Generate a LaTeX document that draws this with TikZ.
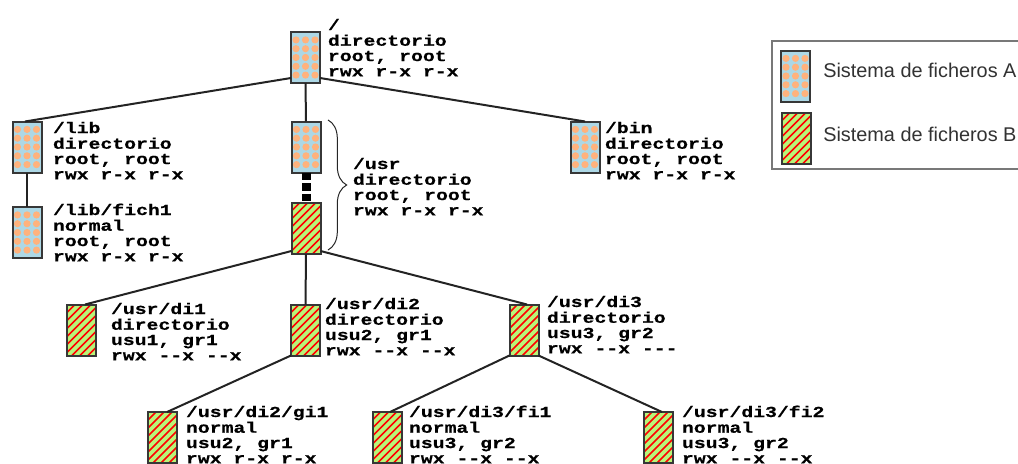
\documentclass[tikz,border=0pt]{standalone}
\usepackage{fontspec}
\usetikzlibrary{calc,decorations.pathreplacing}
\newfontfamily\monof{Liberation Mono}[UprightFont={* Bold}, FakeStretch=1.29, FakeBold=0.6]
\newfontfamily\sansf{Liberation Sans}
\definecolor{fsblue}{RGB}{173,216,230}
\definecolor{fsdot}{RGB}{255,178,125}
\definecolor{fsgreen}{RGB}{184,245,120}
\definecolor{fsred}{RGB}{255,0,0}
\definecolor{bord}{RGB}{55,55,55}
\definecolor{edgec}{RGB}{35,35,35}
\definecolor{legtext}{RGB}{50,50,50}
\definecolor{legframe}{RGB}{120,120,120}
\newcommand{\infolines}[4]{\begin{tabular}[t]{@{}l@{}}#1\\#2\\#3\\#4\end{tabular}}
\begin{document}
\begin{tikzpicture}[x=0.75pt,y=-0.75pt,
  fsbox/.style={draw=bord, line width=1.5pt, minimum width=21.75pt, minimum height=38.25pt, inner sep=0pt, outer sep=0pt},
  fsA/.style={fsbox, fill=fsblue, path picture={
      \foreach \i in {-1,0,1}{\foreach \j in {-2,...,2}{
        \fill[fsdot] ($(path picture bounding box.center)+(\i*9.5,\j*8.8)$) circle[radius=2.7pt];}}
  }},
  fsB/.style={fsbox, fill=fsgreen, path picture={
      \foreach \k in {-8,...,8}{
        \draw[fsred, line width=1.2pt] ($(path picture bounding box.center)+(\k*8-40,40)$) -- ++(80,-80);}
  }},
  info/.style={anchor=base west, inner sep=0pt, outer sep=0pt, font=\monof\fontsize{11.5}{11.5}\selectfont, text=black},
  conn/.style={draw=edgec, line width=1.5pt},
  legtxt/.style={anchor=base west, inner sep=0pt, font=\sansf\fontsize{14.9}{17}\selectfont, text=legtext}
]
\useasboundingbox (0,0) rectangle (1018,464);

% boxes
\node[fsA] (root) at (305.5,57.5) {};
\node[fsA] (lib) at (27,147) {};
\node[fsA] (fich1) at (27,232.5) {};
\node[fsA] (usrA) at (306,147) {};
\node[fsB] (usrB) at (306,228.5) {};
\node[fsA] (bin) at (585,147) {};
\node[fsB] (di1) at (81.5,330) {};
\node[fsB] (di2) at (305.5,330) {};
\node[fsB] (di3) at (524,330) {};
\node[fsB] (gi1) at (162.5,437.5) {};
\node[fsB] (fi1) at (387,437.5) {};
\node[fsB] (fi2) at (658.5,437.5) {};

% connectors
\draw[conn] ($(root.south west)+(0,-5)$) -- ($(lib.north)+(-2,0)$);
\draw[conn] ($(root.south east)+(0,-5)$) -- (bin.north);
\draw[conn] (root.south) -- (usrA.north);
\draw[draw=black, line width=6.75pt, dash pattern=on 5.5pt off 2.5pt] (usrA.south) -- (usrB.north);
\draw[conn] (lib.south) -- (fich1.north);
\draw[conn] ($(usrB.south west)+(0,-3)$) -- ($(di1.north)+(3.5,0)$);
\draw[conn] (usrB.south) -- (di2.north);
\draw[conn] ($(usrB.south east)+(0,-3)$) -- ($(di3.north)+(3,0)$);
\draw[conn] (di2.south west) -- ($(gi1.north)+(4.5,0)$);
\draw[conn] (di3.south west) -- ($(fi1.north)+(3,0)$);
\draw[conn] (di3.south east) -- ($(fi2.north)+(3.5,0)$);

% brace
\coordinate (bt) at (328,120);
\coordinate (bb) at (328,250);
\draw[black!85, line width=0.75pt, decorate, decoration={brace, amplitude=14pt}] (bt) -- (bb);

% texts
\node[info] (rootT) at (328,30) {\infolines{/}{directorio}{root, root}{rwx r-x r-x}};
\node[info] (libT) at (53,133) {\infolines{/lib}{directorio}{root, root}{rwx r-x r-x}};
\node[info] (fich1T) at (53,215) {\infolines{/lib/fich1}{normal}{root, root}{rwx r-x r-x}};
\node[info] (usrT) at (353,169) {\infolines{/usr}{directorio}{root, root}{rwx r-x r-x}};
\node[info] (binT) at (605,133) {\infolines{/bin}{directorio}{root, root}{rwx r-x r-x}};
\node[info] (di1T) at (111,314) {\infolines{/usr/di1}{directorio}{usu1, gr1}{rwx --x --x}};
\node[info] (di2T) at (325,309) {\infolines{/usr/di2}{directorio}{usu2, gr1}{rwx --x --x}};
\node[info] (di3T) at (547,307) {\infolines{/usr/di3}{directorio}{usu3, gr2}{rwx --x ---}};
\node[info] (gi1T) at (186,417) {\infolines{/usr/di2/gi1}{normal}{usu2, gr1}{rwx r-x r-x}};
\node[info] (fi1T) at (409,417) {\infolines{/usr/di3/fi1}{normal}{usu3, gr2}{rwx --x --x}};
\node[info] (fi2T) at (682,417) {\infolines{/usr/di3/fi2}{normal}{usu3, gr2}{rwx --x --x}};

% legend
\draw[legframe, line width=1.2pt] (1020,41) -- (772,41) -- (772,169) -- (1020,169);
\node[fsA] (legA) at (795.5,76) {};
\node[fsB] (legB) at (796,138.5) {};
\node[legtxt] (legAT) at (823,77) {Sistema de ficheros A};
\node[legtxt] (legBT) at (823,141) {Sistema de ficheros B};
\end{tikzpicture}
\end{document}
